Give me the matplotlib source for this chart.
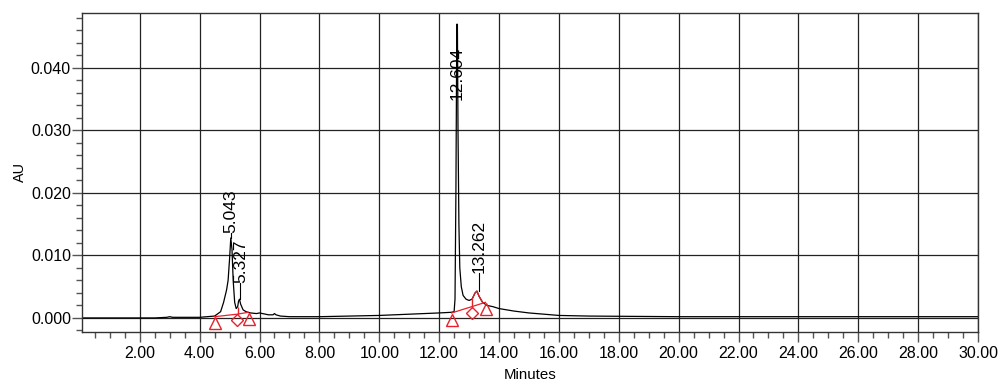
import numpy as np
import matplotlib
matplotlib.use('Agg')
import matplotlib.pyplot as plt
from matplotlib.ticker import MultipleLocator, FixedLocator

plt.rcParams['font.family'] = ['Liberation Sans', 'DejaVu Sans']

# chromatogram trace (minutes, AU)
t = [0.05, 1.0, 2.5, 2.9, 3.0, 3.1, 4.0, 4.5, 4.7, 4.8, 4.9, 4.95, 5.0, 5.04,
     5.08, 5.12, 5.17, 5.22, 5.27, 5.30, 5.33, 5.37, 5.45, 5.55, 5.7, 5.9, 6.0,
     6.1, 6.3, 6.45, 6.5, 6.55, 6.7, 7.0, 8.0, 9.0, 10.0, 11.0, 12.0, 12.4,
     12.5, 12.53, 12.56, 12.59, 12.61, 12.63, 12.66, 12.69, 12.74, 12.8, 12.9,
     13.0, 13.1, 13.2, 13.262, 13.33, 13.45, 13.6, 13.8, 14.0, 14.5, 15.0,
     15.5, 16.0, 17.0, 20.0, 25.0, 30.0]
au = [0.0000, 0.0000, 0.0000, 0.0001, 0.0002, 0.0001, 0.0001, 0.0003, 0.0010,
      0.0025, 0.0045, 0.0060, 0.0095, 0.0128, 0.0110, 0.0060, 0.0025, 0.0015,
      0.0018, 0.0027, 0.0030, 0.0022, 0.0013, 0.0010, 0.0008, 0.0007, 0.0008,
      0.0007, 0.0005, 0.0005, 0.0007, 0.0005, 0.0003, 0.0002, 0.0002, 0.0003,
      0.0004, 0.0006, 0.0008, 0.0009, 0.0010, 0.0030, 0.0200, 0.0470, 0.0470,
      0.0300, 0.0150, 0.0080, 0.0050, 0.0036, 0.0030, 0.0028, 0.0030, 0.0040,
      0.0043, 0.0035, 0.0025, 0.0020, 0.0018, 0.0015, 0.0011, 0.0008, 0.0006,
      0.0004, 0.0003, 0.0002, 0.0002, 0.0002]

# peak labels
peak_rt = [5.043, 5.327, 12.604, 13.262]
peak_x = [5.04, 5.36, 12.60, 13.33]
peak_label_y = [0.0136, 0.0056, 0.0349, 0.0072]
peak_top = [0.0128, 0.0030, 0.0349, 0.0043]

# integration marks
tri_x = [4.50, 5.65, 12.42, 13.57]
tri_y = [-0.0008, -0.0002, -0.0004, 0.0015]
dia_x = [5.25, 13.11]
dia_y = [-0.0003, 0.0008]
base1_x = [4.50, 5.25, 5.62]
base1_y = [0.0002, 0.0006, 0.0009]
base2_x = [12.42, 13.55]
base2_y = [0.0008, 0.0025]
drop_x = [5.27, 13.11]
drop_lo = [0.0006, 0.0016]
drop_hi = [0.0018, 0.0030]

fig = plt.figure(figsize=(9.98, 3.81), dpi=100)
ax = fig.add_axes([82/998, 1 - 332/381, (978 - 82)/998, (332 - 13)/381])

ax.set_xlim(0.07, 30)
ax.set_ylim(-0.00225, 0.0488)

ax.xaxis.set_major_locator(FixedLocator(np.arange(2, 31, 2)))
ax.xaxis.set_minor_locator(MultipleLocator(0.5))
ax.yaxis.set_major_locator(FixedLocator([0.0, 0.01, 0.02, 0.03, 0.04]))
ax.yaxis.set_minor_locator(MultipleLocator(0.002))
ax.xaxis.set_major_formatter(plt.FuncFormatter(lambda v, p: f'{v:.2f}'))
ax.yaxis.set_major_formatter(plt.FuncFormatter(lambda v, p: f'{v:.3f}'))

ax.grid(True, which='major', color='#222222', lw=0.9)
ax.set_axisbelow(True)
ax.tick_params(which='major', length=7, width=1, color='#555555', labelsize=11.5)
ax.tick_params(axis='y', which='major', pad=1)
ax.tick_params(axis='x', which='major', pad=3)
ax.tick_params(which='minor', length=4, width=1, color='#555555')
for s in ax.spines.values():
    s.set_color('#333333')
    s.set_linewidth(1)

ax.plot(t, au, color='black', lw=0.9)

# red portion of the 13.262 peak
ta = np.array(t)
aa = np.array(au)
m = (ta >= 13.1) & (ta <= 13.45)
ax.plot(ta[m], aa[m], color='#e8202a', lw=0.9)

ax.plot(base1_x, base1_y, color='#e8202a', lw=0.9)
ax.plot(base2_x, base2_y, color='#e8202a', lw=0.9)
ax.vlines(drop_x, drop_lo, drop_hi, color='#e8202a', lw=1)
ax.plot(tri_x, tri_y, '^', mfc='none', mec='#e8202a', ms=9, mew=1)
ax.plot(dia_x, dia_y, 'D', mfc='none', mec='#e8202a', ms=6.5, mew=1)

for x, y, top, lab in zip(peak_x, peak_label_y, peak_top, peak_rt):
    ax.text(x, y, f'{lab:.3f}', rotation=90, ha='center', va='bottom',
            fontsize=12.5)
    if y > top:
        ax.plot([x, x], [top, y], color='black', lw=0.8)

ax.set_xlabel('Minutes', fontsize=10.8, labelpad=5)
ax.set_ylabel('AU', fontsize=10.4, labelpad=3)

fig.savefig('out.png', dpi=100)
